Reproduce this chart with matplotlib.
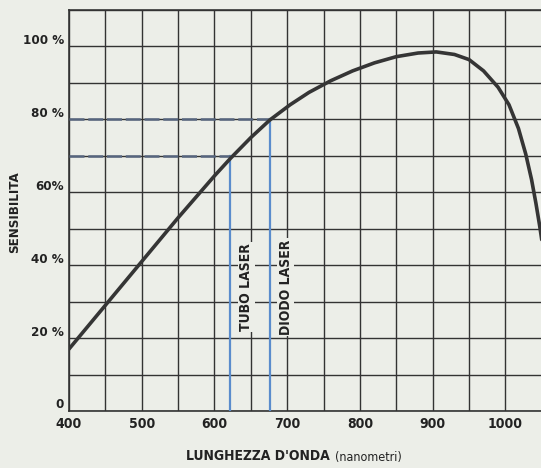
import matplotlib
matplotlib.use("Agg")
import matplotlib.pyplot as plt
from matplotlib.ticker import MultipleLocator
import matplotlib.transforms as mtransforms

# response curve
wavelength = [400, 450, 500, 550, 600, 622, 650, 676, 704, 730, 760, 790, 820, 850,
              880, 905, 930, 950, 970, 990, 1005, 1018, 1028, 1036, 1042, 1047, 1050]
sensitivity = [17.0, 29.0, 41.0, 53.0, 64.5, 69.3, 75.0, 79.8, 84.0, 87.4, 90.6, 93.3, 95.5, 97.2,
               98.2, 98.5, 97.8, 96.4, 93.3, 88.8, 84.0, 77.5, 70.5, 63.5, 57.0, 51.0, 47.0]

x_ticks = [400, 500, 600, 700, 800, 900, 1000]
y_ticks = [0, 20, 40, 60, 80, 100]
y_labels = ["0", "20 %", "40 %", "60%", "80 %", "100 %"]

lasers = ["TUBO LASER", "DIODO LASER"]
laser_nm = [622, 676]
laser_sens = [70, 80]

BG = "#eceee8"
INK = "#333333"
TXT = "#222222"
FONT = dict(family="DejaVu Sans", stretch="condensed", weight="bold")

fig = plt.figure(figsize=(5.41, 4.68), dpi=100, facecolor=BG)
ax = fig.add_axes([69 / 541, 57 / 468, 472 / 541, 401 / 468], facecolor=BG)

ax.set_xlim(400, 1049)
ax.set_ylim(0, 110)

ax.xaxis.set_major_locator(MultipleLocator(100))
ax.xaxis.set_minor_locator(MultipleLocator(50))
ax.yaxis.set_major_locator(MultipleLocator(20))
ax.yaxis.set_minor_locator(MultipleLocator(10))
ax.grid(True, which="both", color=INK, lw=1.0)
ax.set_axisbelow(True)
ax.tick_params(which="both", length=0)

ax.set_xticks(x_ticks)
ax.set_xticklabels([str(v) for v in x_ticks], fontsize=10, color=TXT, **FONT)
ax.tick_params(axis="x", pad=4)
ax.set_yticklabels([])

for sp in ["left", "top", "bottom"]:
    ax.spines[sp].set_color(INK)
    ax.spines[sp].set_linewidth(1.2)
ax.spines["right"].set_visible(False)

offs = mtransforms.offset_copy(ax.get_yaxis_transform(), fig=fig, x=-5, y=6, units="dots")
for v, lab in zip(y_ticks, y_labels):
    ax.text(0, v, lab, transform=offs, ha="right", va="center",
            fontsize=9.5, color=TXT, **FONT)

# laser markers
for name, nm, s in zip(lasers, laser_nm, laser_sens):
    ax.plot([nm, nm], [0, s], color="#5a8ccc", lw=1.6, zorder=3)
    ax.plot([400, nm], [s, s], color="#56657e", lw=1.8, ls=(0, (6, 1.5)), zorder=3)
    ax.text(nm + 22, 34, name, rotation=90, ha="center", va="center",
            fontsize=10, color=TXT, zorder=4,
            bbox=dict(facecolor=BG, edgecolor="none", pad=1.0), **FONT)

ax.plot(wavelength, sensitivity, color="#353535", lw=2.6, zorder=5,
        solid_capstyle="round", solid_joinstyle="round")

fig.text(15 / 541, 1 - 212 / 468, "SENSIBILITA", rotation=90, ha="center", va="center",
         fontsize=9.5, color=TXT, **FONT)
fig.text(330 / 541, 1 - 456 / 468, "LUNGHEZZA D'ONDA", ha="right", va="center",
         fontsize=10, color=TXT, **FONT)
fig.text(335 / 541, 1 - 457 / 468, "(nanometri)", ha="left", va="center",
         family="DejaVu Sans", stretch="condensed", fontsize=9, color=TXT)

fig.savefig("out.png", dpi=100, facecolor=BG)
